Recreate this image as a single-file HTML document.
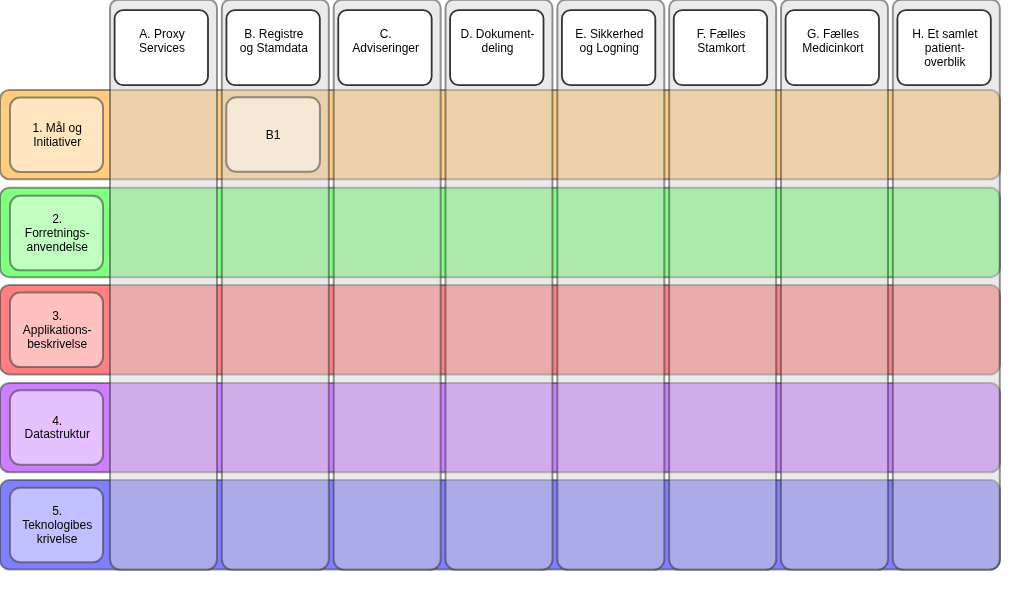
<!DOCTYPE html>
<html><head><meta charset="utf-8"><style>
html,body{margin:0;padding:0;background:#fff;width:1020px;height:607px;overflow:hidden}
svg{display:block}
svg{will-change:transform}
text{font-family:"Liberation Sans",sans-serif;font-size:12px;fill:#000}
</style></head><body>
<svg width="1020" height="607" viewBox="0 0 1020 607">
<rect x="0.00" y="89.90" width="999.90" height="89.40" rx="9.5" fill="#FFCC80" stroke="#333333" stroke-width="2" stroke-opacity="0.52"/>
<rect x="10" y="97.50" width="93" height="74.50" rx="10" fill="#FFE6C0" stroke="#333333" stroke-width="2" stroke-opacity="0.52"/>
<text x="57.20" y="131.91" text-anchor="middle">1. Mål og</text><text x="57.20" y="145.81" text-anchor="middle">Initiativer</text>
<rect x="0.00" y="187.75" width="999.90" height="89.40" rx="9.5" fill="#80FF80" stroke="#333333" stroke-width="2" stroke-opacity="0.52"/>
<rect x="10" y="195.85" width="93" height="74.50" rx="10" fill="#C0FFC0" stroke="#333333" stroke-width="2" stroke-opacity="0.52"/>
<text x="57.20" y="223.31" text-anchor="middle">2.</text><text x="57.20" y="237.21" text-anchor="middle">Forretnings-</text><text x="57.20" y="251.11" text-anchor="middle">anvendelse</text>
<rect x="0.00" y="285.00" width="999.90" height="89.40" rx="9.5" fill="#FF8080" stroke="#333333" stroke-width="2" stroke-opacity="0.52"/>
<rect x="10" y="292.60" width="93" height="74.50" rx="10" fill="#FFC0C0" stroke="#333333" stroke-width="2" stroke-opacity="0.52"/>
<text x="57.20" y="320.06" text-anchor="middle">3.</text><text x="57.20" y="333.96" text-anchor="middle">Applikations-</text><text x="57.20" y="347.86" text-anchor="middle">beskrivelse</text>
<rect x="0.00" y="382.95" width="999.90" height="89.40" rx="9.5" fill="#CC80FF" stroke="#333333" stroke-width="2" stroke-opacity="0.52"/>
<rect x="10" y="390.15" width="93" height="74.50" rx="10" fill="#E6C0FF" stroke="#333333" stroke-width="2" stroke-opacity="0.52"/>
<text x="57.20" y="424.56" text-anchor="middle">4.</text><text x="57.20" y="438.46" text-anchor="middle">Datastruktur</text>
<rect x="0.00" y="480.10" width="999.90" height="89.40" rx="9.5" fill="#8080FF" stroke="#333333" stroke-width="2" stroke-opacity="0.52"/>
<rect x="10" y="487.70" width="93" height="74.50" rx="10" fill="#C0C0FF" stroke="#333333" stroke-width="2" stroke-opacity="0.52"/>
<text x="57.20" y="515.16" text-anchor="middle">5.</text><text x="57.20" y="529.06" text-anchor="middle">Teknologibes</text><text x="57.20" y="542.96" text-anchor="middle">krivelse</text>
<path d="M118.00 -0.20 H209.00 A8.00 8.00 0 0 1 217.00 7.80 V559.30 A10.50 10.50 0 0 1 206.50 569.80 H120.50 A10.50 10.50 0 0 1 110.00 559.30 V7.80 A8.00 8.00 0 0 1 118.00 -0.20 Z" fill="#D6D6D6" fill-opacity="0.5" stroke="#333333" stroke-width="2" stroke-opacity="0.52"/>
<rect x="114.60" y="10.1" width="93.40" height="75" rx="8.5" fill="#FFFFFF" stroke="#333333" stroke-width="1.8"/>
<text x="162.00" y="37.80" text-anchor="middle">A. Proxy</text><text x="162.00" y="51.70" text-anchor="middle">Services</text>
<path d="M229.83 -0.20 H320.83 A8.00 8.00 0 0 1 328.83 7.80 V559.30 A10.50 10.50 0 0 1 318.33 569.80 H232.33 A10.50 10.50 0 0 1 221.83 559.30 V7.80 A8.00 8.00 0 0 1 229.83 -0.20 Z" fill="#D6D6D6" fill-opacity="0.5" stroke="#333333" stroke-width="2" stroke-opacity="0.52"/>
<rect x="226.43" y="10.1" width="93.40" height="75" rx="8.5" fill="#FFFFFF" stroke="#333333" stroke-width="1.8"/>
<text x="273.83" y="37.80" text-anchor="middle">B. Registre</text><text x="273.83" y="51.70" text-anchor="middle">og Stamdata</text>
<path d="M341.66 -0.20 H432.66 A8.00 8.00 0 0 1 440.66 7.80 V559.30 A10.50 10.50 0 0 1 430.16 569.80 H344.16 A10.50 10.50 0 0 1 333.66 559.30 V7.80 A8.00 8.00 0 0 1 341.66 -0.20 Z" fill="#D6D6D6" fill-opacity="0.5" stroke="#333333" stroke-width="2" stroke-opacity="0.52"/>
<rect x="338.26" y="10.1" width="93.40" height="75" rx="8.5" fill="#FFFFFF" stroke="#333333" stroke-width="1.8"/>
<text x="385.66" y="37.80" text-anchor="middle">C.</text><text x="385.66" y="51.70" text-anchor="middle">Adviseringer</text>
<path d="M453.49 -0.20 H544.49 A8.00 8.00 0 0 1 552.49 7.80 V559.30 A10.50 10.50 0 0 1 541.99 569.80 H455.99 A10.50 10.50 0 0 1 445.49 559.30 V7.80 A8.00 8.00 0 0 1 453.49 -0.20 Z" fill="#D6D6D6" fill-opacity="0.5" stroke="#333333" stroke-width="2" stroke-opacity="0.52"/>
<rect x="450.09" y="10.1" width="93.40" height="75" rx="8.5" fill="#FFFFFF" stroke="#333333" stroke-width="1.8"/>
<text x="497.49" y="37.80" text-anchor="middle">D. Dokument-</text><text x="497.49" y="51.70" text-anchor="middle">deling</text>
<path d="M565.32 -0.20 H656.32 A8.00 8.00 0 0 1 664.32 7.80 V559.30 A10.50 10.50 0 0 1 653.82 569.80 H567.82 A10.50 10.50 0 0 1 557.32 559.30 V7.80 A8.00 8.00 0 0 1 565.32 -0.20 Z" fill="#D6D6D6" fill-opacity="0.5" stroke="#333333" stroke-width="2" stroke-opacity="0.52"/>
<rect x="561.92" y="10.1" width="93.40" height="75" rx="8.5" fill="#FFFFFF" stroke="#333333" stroke-width="1.8"/>
<text x="609.32" y="37.80" text-anchor="middle">E. Sikkerhed</text><text x="609.32" y="51.70" text-anchor="middle">og Logning</text>
<path d="M677.15 -0.20 H768.15 A8.00 8.00 0 0 1 776.15 7.80 V559.30 A10.50 10.50 0 0 1 765.65 569.80 H679.65 A10.50 10.50 0 0 1 669.15 559.30 V7.80 A8.00 8.00 0 0 1 677.15 -0.20 Z" fill="#D6D6D6" fill-opacity="0.5" stroke="#333333" stroke-width="2" stroke-opacity="0.52"/>
<rect x="673.75" y="10.1" width="93.40" height="75" rx="8.5" fill="#FFFFFF" stroke="#333333" stroke-width="1.8"/>
<text x="721.15" y="37.80" text-anchor="middle">F. Fælles</text><text x="721.15" y="51.70" text-anchor="middle">Stamkort</text>
<path d="M788.98 -0.20 H879.98 A8.00 8.00 0 0 1 887.98 7.80 V559.30 A10.50 10.50 0 0 1 877.48 569.80 H791.48 A10.50 10.50 0 0 1 780.98 559.30 V7.80 A8.00 8.00 0 0 1 788.98 -0.20 Z" fill="#D6D6D6" fill-opacity="0.5" stroke="#333333" stroke-width="2" stroke-opacity="0.52"/>
<rect x="785.58" y="10.1" width="93.40" height="75" rx="8.5" fill="#FFFFFF" stroke="#333333" stroke-width="1.8"/>
<text x="832.98" y="37.80" text-anchor="middle">G. Fælles</text><text x="832.98" y="51.70" text-anchor="middle">Medicinkort</text>
<path d="M900.81 -0.20 H991.81 A8.00 8.00 0 0 1 999.81 7.80 V559.30 A10.50 10.50 0 0 1 989.31 569.80 H903.31 A10.50 10.50 0 0 1 892.81 559.30 V7.80 A8.00 8.00 0 0 1 900.81 -0.20 Z" fill="#D6D6D6" fill-opacity="0.5" stroke="#333333" stroke-width="2" stroke-opacity="0.52"/>
<rect x="897.41" y="10.1" width="93.40" height="75" rx="8.5" fill="#FFFFFF" stroke="#333333" stroke-width="1.8"/>
<text x="944.81" y="37.80" text-anchor="middle">H. Et samlet</text><text x="944.81" y="51.70" text-anchor="middle">patient-</text><text x="944.81" y="65.60" text-anchor="middle">overblik</text>
<rect x="226.3" y="97.2" width="93.6" height="74.6" rx="10" fill="#FFFFFF" fill-opacity="0.5" stroke="#333333" stroke-opacity="0.5" stroke-width="2"/>
<text x="273.10" y="138.61" text-anchor="middle">B1</text>
</svg>
</body></html>
